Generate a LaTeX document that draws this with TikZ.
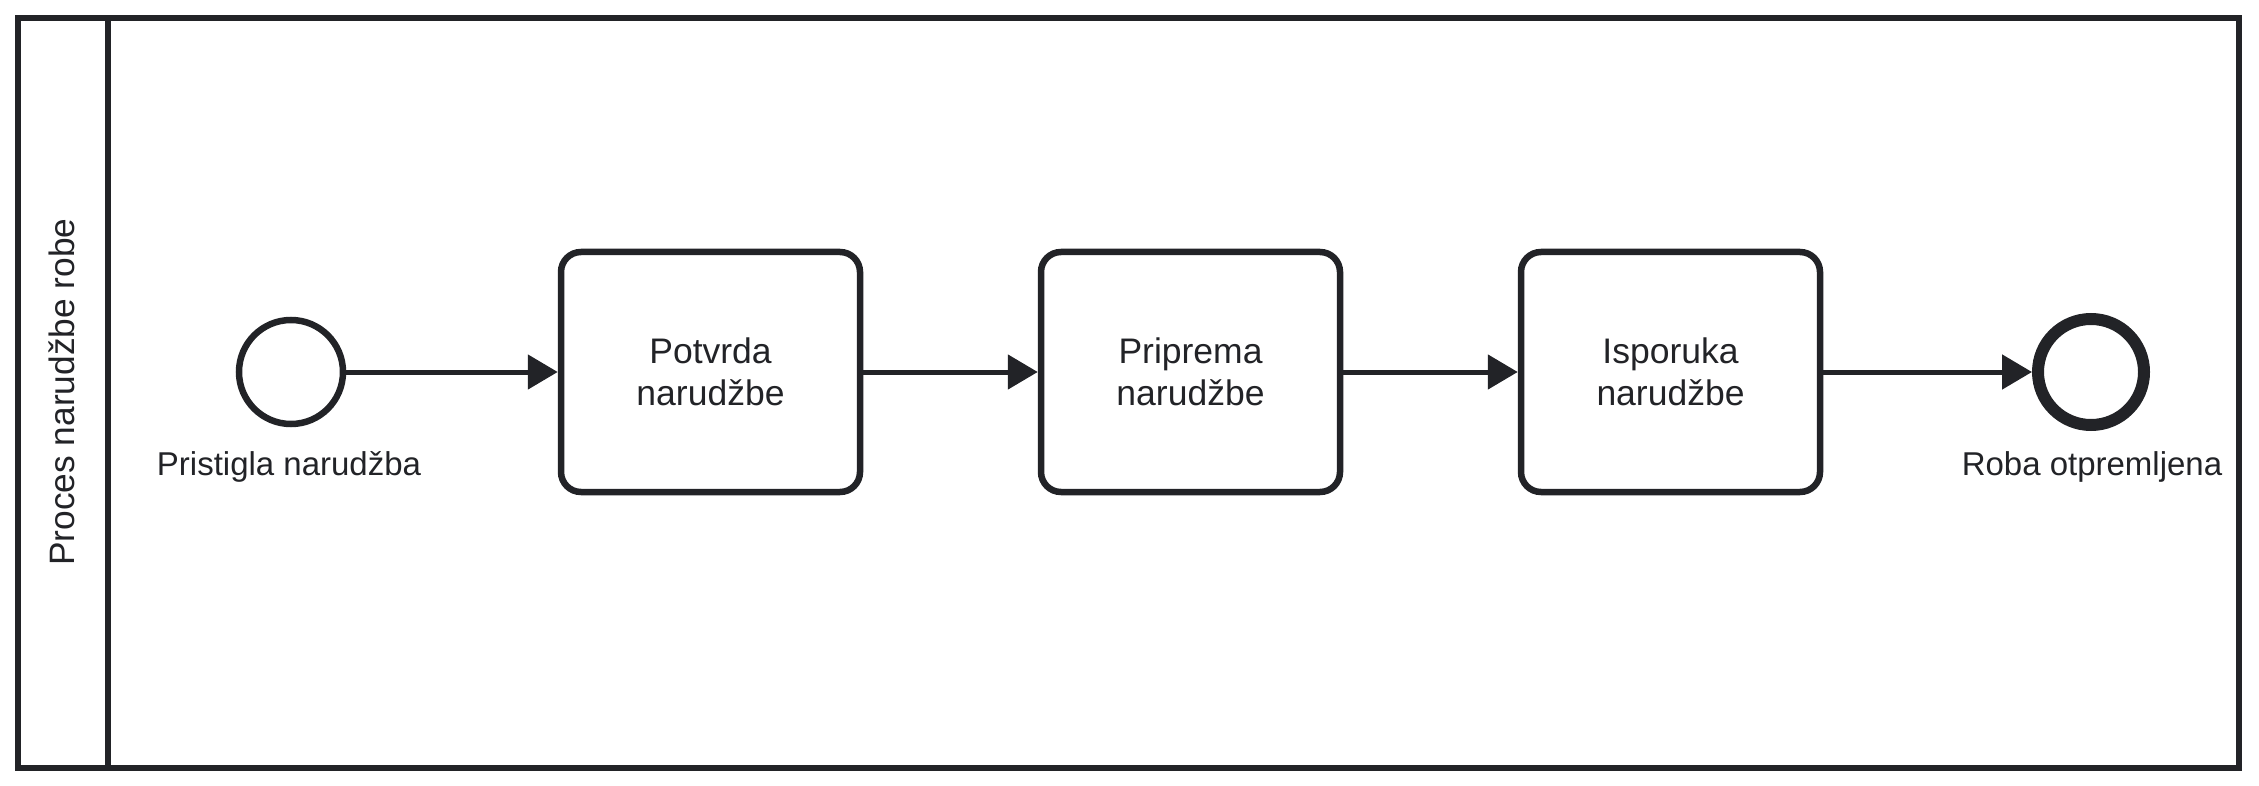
\documentclass[tikz,border=0pt]{standalone}
\usepackage{fontspec}
\setmainfont{Liberation Sans}
\usetikzlibrary{arrows.meta}
\definecolor{ink}{RGB}{34,35,39}
\tikzset{
  lane/.style={draw=ink, line width=6pt},
  task/.style={draw=ink, line width=6.5pt, rounded corners=20pt, minimum width=299pt, minimum height=240pt, align=center, text=ink, font=\fontsize{35.5}{42}\selectfont},
  startev/.style={circle, draw=ink, line width=6.5pt, minimum size=104pt, inner sep=0pt},
  endev/.style={circle, draw=ink, line width=12pt, minimum size=106pt, inner sep=0pt},
  evlabel/.style={text=ink, font=\fontsize{33}{40}\selectfont, inner sep=0pt},
  flow/.style={draw=ink, line width=5pt, -{Triangle[length=30pt,width=34pt]}}
}
\begin{document}
\begin{tikzpicture}[x=1pt,y=-1pt]
\useasboundingbox (0,0) rectangle (2259,786);
% pool / lane
\draw[lane] (18,18) rectangle (2239,768);
\draw[lane] (108,18) -- (108,768);
\node[evlabel, rotate=90, font=\fontsize{35.3}{40}\selectfont] (lanelabel) at (62,392) {Proces narudžbe robe};
% events and tasks
\node[startev] (start) at (291,372) {};
\node[evlabel] (startlabel) at (289,467) {Pristigla narudžba};
\node[task] (t1) at (710.5,372) {Potvrda\\narudžbe};
\node[task] (t2) at (1190.5,372) {Priprema\\narudžbe};
\node[task] (t3) at (1670.5,372) {Isporuka\\narudžbe};
\node[endev] (end) at (2091,372) {};
\node[evlabel] (endlabel) at (2092,467) {Roba otpremljena};
% flows
\draw[flow] (start) -- (t1);
\draw[flow] (t1) -- (t2);
\draw[flow] (t2) -- (t3);
\draw[flow] (t3) -- (end);
\end{tikzpicture}
\end{document}
